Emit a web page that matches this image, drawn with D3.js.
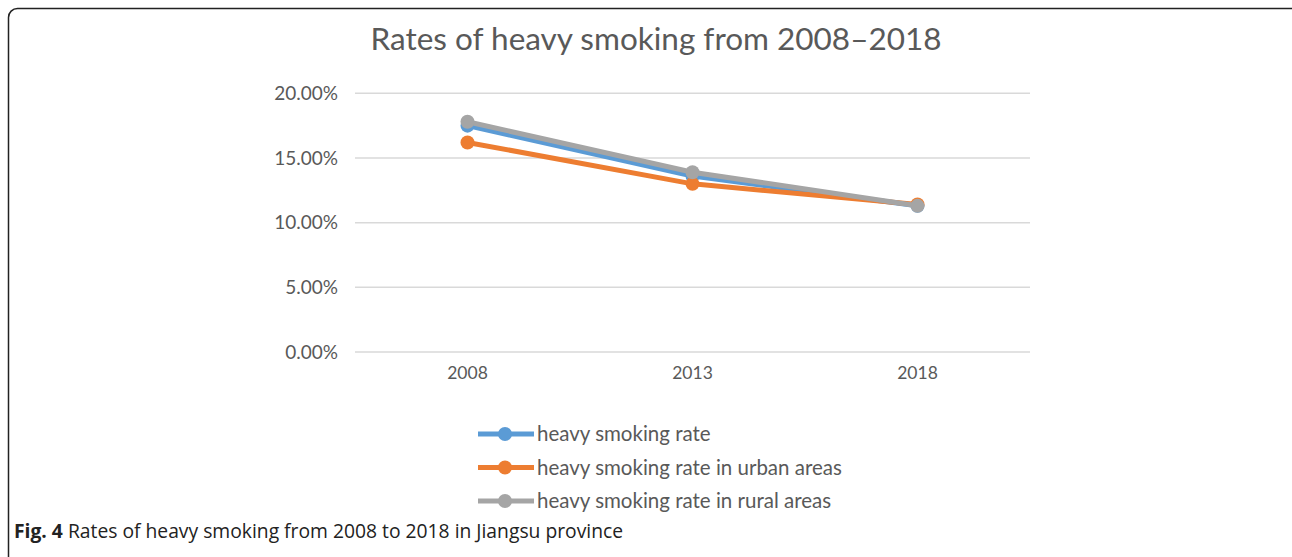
<!DOCTYPE html>
<html>
<head>
<meta charset="utf-8">
<script src="https://cdn.jsdelivr.net/npm/d3@7"></script>
<style>
  html, body { margin: 0; padding: 0; background: #fff; }
  svg { display: block; }
</style>
</head>
<body>
<svg id="chart" width="1292" height="557"></svg>
<script>
// Survey years and heavy-smoking rates (%) for each population group
const years = ["2008", "2013", "2018"];
const overallRate = [17.5, 13.6, 11.3];
const urbanRate = [16.2, 13.0, 11.4];
const ruralRate = [17.8, 13.9, 11.3];
const seriesNames = [
  "heavy smoking rate",
  "heavy smoking rate in urban areas",
  "heavy smoking rate in rural areas"
];
const yTicks = [0, 5, 10, 15, 20];

const seriesData = [
  { name: seriesNames[0], values: overallRate, color: "#5B9BD5" },
  { name: seriesNames[1], values: urbanRate, color: "#ED7D31" },
  { name: seriesNames[2], values: ruralRate, color: "#A5A5A5" }
];

const svg = d3.select("#chart");
const font = "Lato, 'Open Sans', sans-serif";

// Frame around the figure
svg.append("rect")
  .attr("x", 8.5).attr("y", 8.5)
  .attr("width", 1292).attr("height", 570)
  .attr("rx", 9)
  .attr("fill", "none")
  .attr("stroke", "#222")
  .attr("stroke-width", 1.5);

// Chart title
svg.append("text")
  .attr("x", 656).attr("y", 50)
  .attr("text-anchor", "middle")
  .attr("font-family", font)
  .attr("font-size", 31.5)
  .attr("fill", "#595959")
  .text("Rates of heavy smoking from 2008\u20132018");

const x = d3.scaleBand().domain(years).range([355, 1030]);
const y = d3.scaleLinear().domain([0, 20]).range([352, 93.3]);

// Horizontal gridlines
svg.append("g")
  .selectAll("line")
  .data(yTicks)
  .join("line")
  .attr("x1", 355).attr("x2", 1030)
  .attr("y1", d => y(d)).attr("y2", d => y(d))
  .attr("stroke", "#d9d9d9")
  .attr("stroke-width", 1.5);

// Y axis
const yAxis = svg.append("g")
  .attr("transform", "translate(355,0)")
  .call(d3.axisLeft(y).tickValues(yTicks).tickSize(0).tickPadding(17)
    .tickFormat(d => d.toFixed(2) + "%"));
yAxis.select(".domain").remove();
yAxis.selectAll("text")
  .attr("font-family", font)
  .attr("font-size", 19)
  .attr("fill", "#595959");

// X axis
const xAxis = svg.append("g")
  .attr("transform", "translate(0,352)")
  .call(d3.axisBottom(x).tickSize(0).tickPadding(15));
xAxis.select(".domain").remove();
xAxis.selectAll("text")
  .attr("font-family", font)
  .attr("font-size", 17.5)
  .attr("fill", "#595959");

// Lines and markers
const line = d3.line()
  .x((d, i) => x(years[i]) + x.bandwidth() / 2)
  .y(d => y(d));

const groups = svg.append("g")
  .selectAll("g")
  .data(seriesData)
  .join("g");

groups.append("path")
  .attr("d", d => line(d.values))
  .attr("fill", "none")
  .attr("stroke", d => d.color)
  .attr("stroke-width", 5)
  .attr("stroke-linejoin", "round");

groups.selectAll("circle")
  .data(d => d.values.map(v => ({ v, color: d.color })))
  .join("circle")
  .attr("cx", (d, i) => x(years[i]) + x.bandwidth() / 2)
  .attr("cy", d => y(d.v))
  .attr("r", 7)
  .attr("fill", d => d.color);

// Legend
const legend = svg.append("g")
  .selectAll("g")
  .data(seriesData)
  .join("g")
  .attr("transform", (d, i) => `translate(478,${434 + i * 33.5})`);

legend.append("line")
  .attr("x1", 0).attr("x2", 56)
  .attr("stroke", d => d.color)
  .attr("stroke-width", 5);
legend.append("circle")
  .attr("cx", 27).attr("r", 7)
  .attr("fill", d => d.color);
legend.append("text")
  .attr("x", 59).attr("y", 7)
  .attr("font-family", font)
  .attr("font-size", 20.5)
  .attr("fill", "#595959")
  .text(d => d.name);

// Figure caption
const caption = svg.append("text")
  .attr("x", 14).attr("y", 538)
  .attr("font-family", "'Open Sans', sans-serif")
  .attr("font-size", 19.3)
  .attr("fill", "#222");
caption.append("tspan").attr("font-weight", "bold").text("Fig. 4");
caption.append("tspan").text(" Rates of heavy smoking from 2008 to 2018 in Jiangsu province");
</script>
</body>
</html>
